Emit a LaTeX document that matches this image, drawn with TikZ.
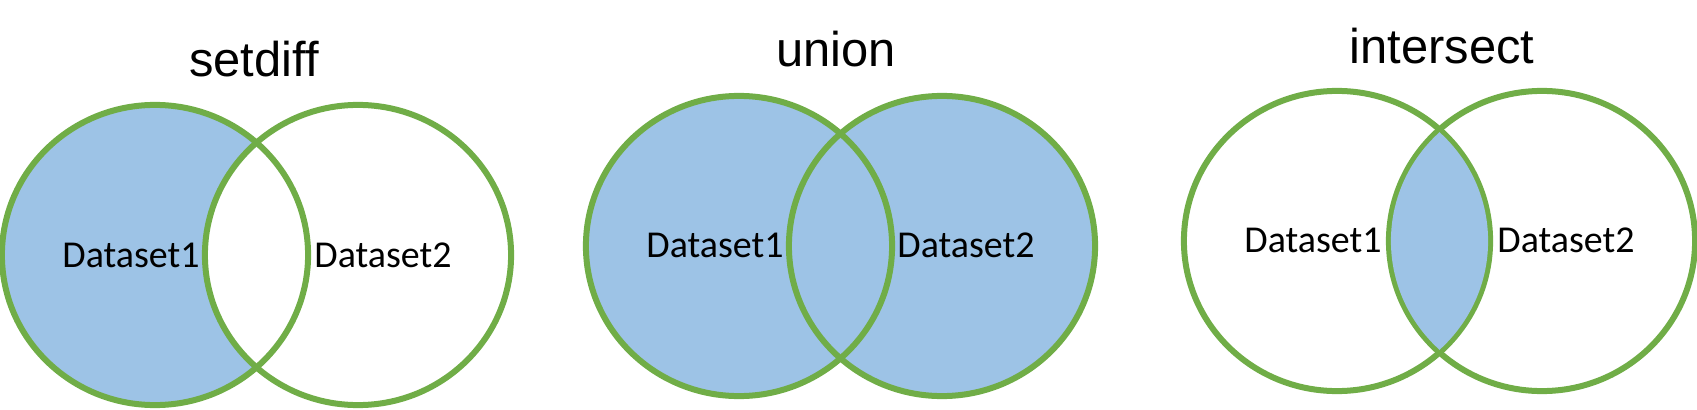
\documentclass[tikz,border=0pt]{standalone}
\usepackage{fontspec}
\setmainfont{Liberation Sans}
\newfontfamily\lblfont{Carlito}
\definecolor{vgreen}{HTML}{70AD47}
\definecolor{vblue}{HTML}{9DC3E6}
\begin{document}
\begin{tikzpicture}[x=0.01cm,y=-0.01cm,
  ring/.style={draw=vgreen,line width=0.06cm},
  settitle/.style={anchor=base,inner sep=0pt,font=\fontsize{13.9}{16}\selectfont},
  setlabel/.style={anchor=base,inner sep=0pt,font=\lblfont\fontsize{10.8}{12}\selectfont}]
\useasboundingbox (0,0) rectangle (1697,409);
\def\rx{1.53cm}\def\ry{1.50cm}
% ---------- setdiff ----------
\fill[vblue] (155,255) ellipse [x radius=\rx, y radius=\ry];
\begin{scope}
  \clip (358,255) ellipse [x radius=\rx, y radius=\ry];
  \fill[white] (155,255) ellipse [x radius=\rx, y radius=\ry];
\end{scope}
\draw[ring] (155,255) ellipse [x radius=\rx, y radius=\ry];
\draw[ring] (358,255) ellipse [x radius=\rx, y radius=\ry];
\node[settitle] (t1) at (254,77) {setdiff};
\node[setlabel] (a1) at (131,267) {Dataset1};
\node[setlabel] (b1) at (383,267) {Dataset2};
% ---------- union ----------
\fill[vblue] (739,246) ellipse [x radius=\rx, y radius=\ry];
\fill[vblue] (942,246) ellipse [x radius=\rx, y radius=\ry];
\draw[ring] (739,246) ellipse [x radius=\rx, y radius=\ry];
\draw[ring] (942,246) ellipse [x radius=\rx, y radius=\ry];
\node[settitle] (t2) at (836,67) {union};
\node[setlabel] (a2) at (715,257) {Dataset1};
\node[setlabel] (b2) at (966,257) {Dataset2};
% ---------- intersect ----------
\draw[ring] (1337,241) ellipse [x radius=\rx, y radius=\ry];
\draw[ring] (1542,241) ellipse [x radius=\rx, y radius=\ry];
\begin{scope}
  \clip (1337,241) ellipse [x radius=1.51cm, y radius=1.48cm];
  \fill[vblue] (1542,241) ellipse [x radius=1.51cm, y radius=1.48cm];
\end{scope}
\node[settitle] (t3) at (1442,63) {intersect};
\node[setlabel] (a3) at (1313,252) {Dataset1};
\node[setlabel] (b3) at (1566,252) {Dataset2};
\end{tikzpicture}
\end{document}
